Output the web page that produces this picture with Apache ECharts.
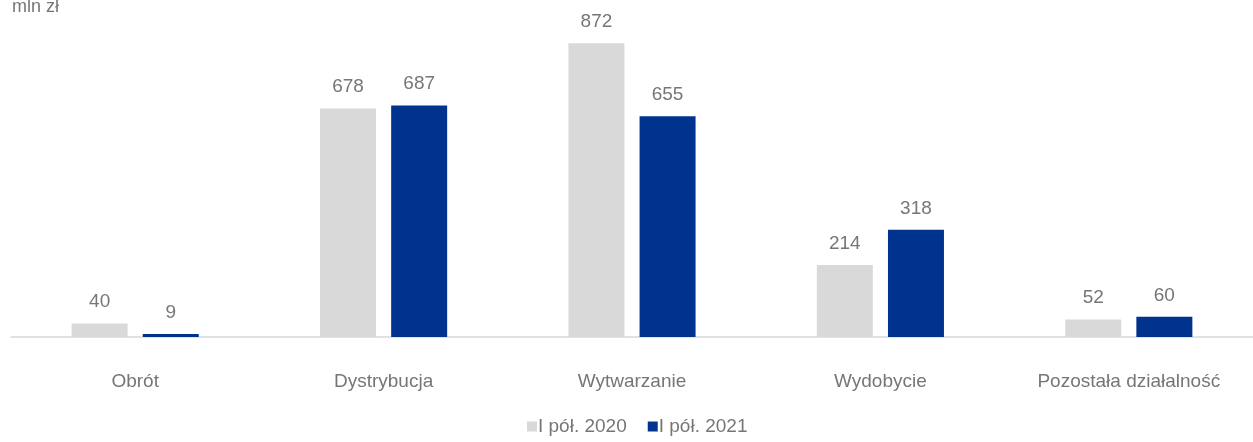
<!DOCTYPE html>
<html><head><meta charset="utf-8">
<script src="https://cdn.jsdelivr.net/npm/echarts@6/dist/echarts.min.js"></script>
<style>html,body{margin:0;padding:0;background:#fff}#c{width:1253px;height:442px}</style>
</head><body><div id="c"></div>
<script>
const categories = ['Obrót', 'Dystrybucja', 'Wytwarzanie', 'Wydobycie', 'Pozostała działalność'];
const seriesNames = ['I pół. 2020', 'I pół. 2021'];
const values2020 = [40, 678, 872, 214, 52];
const values2021 = [9, 687, 655, 318, 60];
const unitLabel = 'mln zł';

const font = 'Liberation Sans, Arial, sans-serif';
const txt = '#767676';
const chart = echarts.init(document.getElementById('c'));
function mk(name, vals, color) {
  return {
    name, type: 'bar', data: vals, barWidth: 56, barGap: '27%',
    itemStyle: { color },
    label: { show: true, position: 'top', distance: 12, color: txt, fontSize: 19, fontFamily: font },
    animation: false
  };
}
chart.setOption({
  animation: false,
  textStyle: { fontFamily: font },
  grid: { left: 11, width: 1245, top: 0, height: 337 },
  xAxis: {
    type: 'category', data: categories,
    axisLine: { lineStyle: { color: '#D9D9D9', width: 1.5 } },
    axisTick: { show: false },
    axisLabel: { color: txt, fontSize: 19, fontFamily: font, margin: 35 }
  },
  yAxis: { type: 'value', min: 0, max: 1000, show: false, splitLine: { show: false } },
  legend: {
    bottom: 1, left: 522, itemWidth: 10, itemHeight: 10, itemGap: 21,
    icon: 'rect', textStyle: { color: txt, fontSize: 19, fontFamily: font, padding: [0, 0, 0, -4] },
    data: seriesNames
  },
  graphic: [{ type: 'text', left: 12, top: -2, style: { text: unitLabel, fill: txt, font: '18px ' + font } }],
  series: [mk(seriesNames[0], values2020, '#D9D9D9'), mk(seriesNames[1], values2021, '#00338D')]
});
</script></body></html>
